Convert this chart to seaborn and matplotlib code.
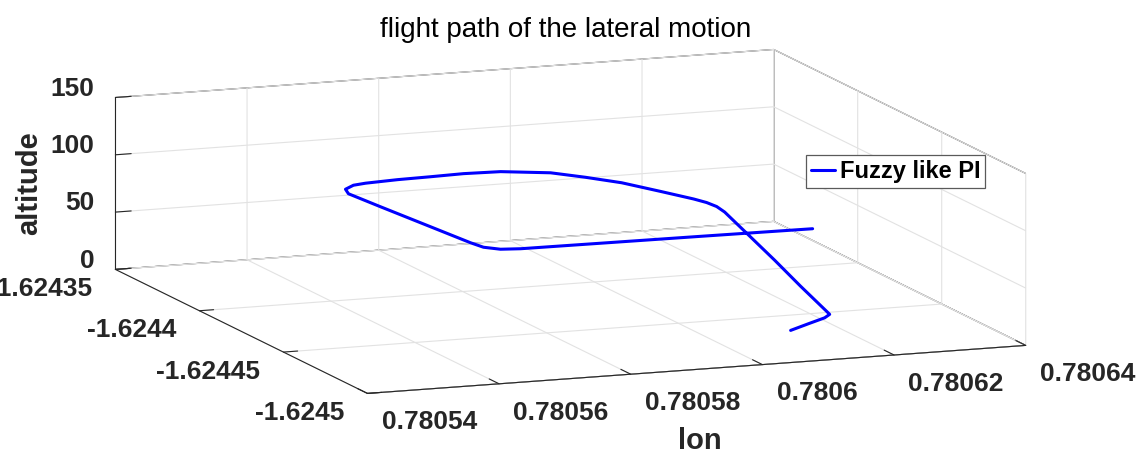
import numpy as np
import matplotlib
matplotlib.use("Agg")
import matplotlib.pyplot as plt
import seaborn as sns
from mpl_toolkits.mplot3d import proj3d
from matplotlib.ticker import FixedLocator, FixedFormatter

# ---------------- data ----------------
series_label = "Fuzzy like PI"
lon = [0.78061293, 0.78061569, 0.78061813, 0.78061936, 0.78061958, 0.78061928,
       0.78061929, 0.78061899, 0.78061869, 0.78061796, 0.78061655, 0.78061454,
       0.78060952, 0.78060360, 0.78059812, 0.78059281, 0.78058521, 0.78057958,
       0.78057457, 0.78056955, 0.78056469, 0.78056246, 0.78056033, 0.78055951,
       0.78056025, 0.78056149, 0.78056248, 0.78056299, 0.78056470, 0.78056749,
       0.78057955, 0.78059465, 0.78061151]
lat = [-1.62446614, -1.62446604, -1.62446601, -1.62446418, -1.62446153, -1.62444720,
       -1.62443172, -1.62441740, -1.62440432, -1.62440241, -1.62440195, -1.62440211,
       -1.62440211, -1.62440211, -1.62440211, -1.62440211, -1.62440211, -1.62440211,
       -1.62440211, -1.62440211, -1.62440211, -1.62440369, -1.62440729, -1.62441227,
       -1.62442842, -1.62445332, -1.62447326, -1.62447900, -1.62448241, -1.62448343,
       -1.62448377, -1.62448419, -1.62448479]
alt = [0.0, 4.65, 8.7, 9.9, 10.5, 22.2, 33.75, 45.45, 56.25, 60.0, 63.75, 67.8,
       76.5, 86.55, 93.6, 99.75, 103.95, 104.55, 103.95, 103.5, 102.45, 102.75,
       102.75, 102.75, 102.75, 102.75, 102.75, 102.75, 102.75, 102.75, 102.75,
       102.75, 102.75]

lon_ticks = [0.78054, 0.78056, 0.78058, 0.78060, 0.78062, 0.78064]
lon_tick_labels = ["0.78054", "0.78056", "0.78058", "0.7806", "0.78062", "0.78064"]
lat_ticks = [-1.62450, -1.62445, -1.62440, -1.62435]
lat_tick_labels = ["-1.6245", "-1.62445", "-1.6244", "-1.62435"]
alt_ticks = [0, 50, 100, 150]
alt_tick_labels = ["0", "50", "100", "150"]

title_text = "flight path of the lateral motion"
xlabel_text = "lon"
zlabel_text = "altitude"

# ---------------- style ----------------
sns.set_theme(style="white")
plt.rcParams["font.family"] = ["Liberation Sans", "DejaVu Sans"]
plt.rcParams["font.weight"] = "bold"
plt.rcParams["grid.color"] = "#e2e2e2"
plt.rcParams["grid.linewidth"] = 0.8
plt.rcParams["axes.edgecolor"] = "#262626"
plt.rcParams["axes.linewidth"] = 0.8
plt.rcParams["xtick.color"] = "#262626"
plt.rcParams["ytick.color"] = "#262626"
plt.rcParams["text.color"] = "#262626"

W, H = 1148, 463
fig = plt.figure(figsize=(W / 100, H / 100), dpi=100)
fig.patch.set_facecolor("white")
s0 = 1000.0
ax = fig.add_axes([0.05, -0.6, s0 / W, s0 / H], projection="3d", proj_type="ortho")
ax.view_init(elev=10.92, azim=-111.06)
ax.set_box_aspect((705, 701, 175))

ax.plot(lon, lat, alt, color="#0000ff", lw=2.2, label=series_label)

ax.set_xlim(lon_ticks[0], lon_ticks[-1])
ax.set_ylim(lat_ticks[0], lat_ticks[-1])
ax.set_zlim(alt_ticks[0], alt_ticks[-1])
ax.xaxis.set_major_locator(FixedLocator(lon_ticks))
ax.xaxis.set_major_formatter(FixedFormatter(lon_tick_labels))
ax.yaxis.set_major_locator(FixedLocator(lat_ticks))
ax.yaxis.set_major_formatter(FixedFormatter(lat_tick_labels))
ax.zaxis.set_major_locator(FixedLocator(alt_ticks))
ax.zaxis.set_major_formatter(FixedFormatter(alt_tick_labels))
ax.tick_params(labelsize=19, colors="#262626")
ax.grid(True)

tick_len = {"x": 0.49, "y": 0.27, "z": 0.3}
for name, axis in (("x", ax.xaxis), ("y", ax.yaxis), ("z", ax.zaxis)):
    axis.set_pane_color((1, 1, 1, 1))
    axis.pane.set_edgecolor("#262626")
    axis.pane.set_linewidth(0.8)
    axis.line.set_color("#262626")
    axis.line.set_linewidth(0.8)
    axis._axinfo["tick"]["inward_factor"] = 0.0
    axis._axinfo["tick"]["outward_factor"] = tick_len[name]
    axis._axinfo["tick"]["linewidth"] = {True: 0.8, False: 0.5}
    axis._axinfo["grid"]["color"] = "#e2e2e2"
    axis._axinfo["grid"]["linewidth"] = 0.8

# ---------------- place the 3-D box like the reference ----------------
fig.canvas.draw()
M = ax.get_proj()
x0, x1 = lon_ticks[0], lon_ticks[-1]
y0, y1 = lat_ticks[0], lat_ticks[-1]
z0, z1 = alt_ticks[0], alt_ticks[-1]
corners = [(x0, y0, z0), (x1, y0, z0), (x0, y1, z0), (x1, y1, z0),
           (x0, y1, z1), (x1, y1, z1), (x1, y0, z1)]
targets = [(367, 393), (1025, 345), (115, 269), (775, 222),
           (115, 97), (775, 51), (1025, 173)]
pos = ax.get_position()
ox, oy = pos.x0 * W, pos.y0 * H
rows, rhs = [], []
for (cx, cy, cz), (tx, ty) in zip(corners, targets):
    px, py, _ = proj3d.proj_transform(cx, cy, cz, M)
    dx, dy = ax.transData.transform((px, py))
    nx, ny = (dx - ox) / s0, (dy - oy) / s0
    rows.append([1, 0, nx]); rhs.append(tx)
    rows.append([0, 1, ny]); rhs.append(H - ty)
sol, *_ = np.linalg.lstsq(np.array(rows, float), np.array(rhs, float), rcond=None)
nox, noy, ns = sol
ax.set_position([nox / W, noy / H, ns / W, ns / H])

# tick-label offsets (fraction of each axis range) -> pad in points
deltas_per_point = 48.0 / (72.0 * 2 * ns / 100.0)
label_frac = {"x": 0.057, "y": 0.035, "z": 0.023}
for name, axis in (("x", ax.xaxis), ("y", ax.yaxis), ("z", ax.zaxis)):
    pad = label_frac[name] / (deltas_per_point * 0.08) - 8.0
    axis.set_tick_params(pad=pad)
plt.setp(ax.xaxis.get_majorticklabels(), ha="left", va="top")
plt.setp(ax.yaxis.get_majorticklabels(), ha="right", va="top")
plt.setp(ax.zaxis.get_majorticklabels(), ha="right", va="baseline")

# ---------------- texts & legend ----------------
fig.text(565.5 / W, 1 - 37 / H, title_text, ha="center", va="baseline",
         fontsize=20, fontweight="normal", color="black")
fig.text(700 / W, 1 - 441 / H, xlabel_text, ha="center", va="center",
         fontsize=21, fontweight="bold", color="#262626")
fig.text(29 / W, 1 - 183 / H, zlabel_text, ha="center", va="center",
         rotation=90, fontsize=21, fontweight="bold", color="#262626")

leg = ax.legend(loc="upper left", bbox_to_anchor=(806 / W, 1 - 155 / H),
                bbox_transform=fig.transFigure, prop={"weight": "bold", "size": 17},
                frameon=True, fancybox=False, framealpha=1, edgecolor="#5a5a5a",
                handlelength=1.0, handletextpad=0.2, borderpad=0.22,
                borderaxespad=0.0)
leg.get_frame().set_linewidth(0.9)
for t in leg.get_texts():
    t.set_color("black")

fig.savefig("out.png", dpi=100, facecolor="white")
